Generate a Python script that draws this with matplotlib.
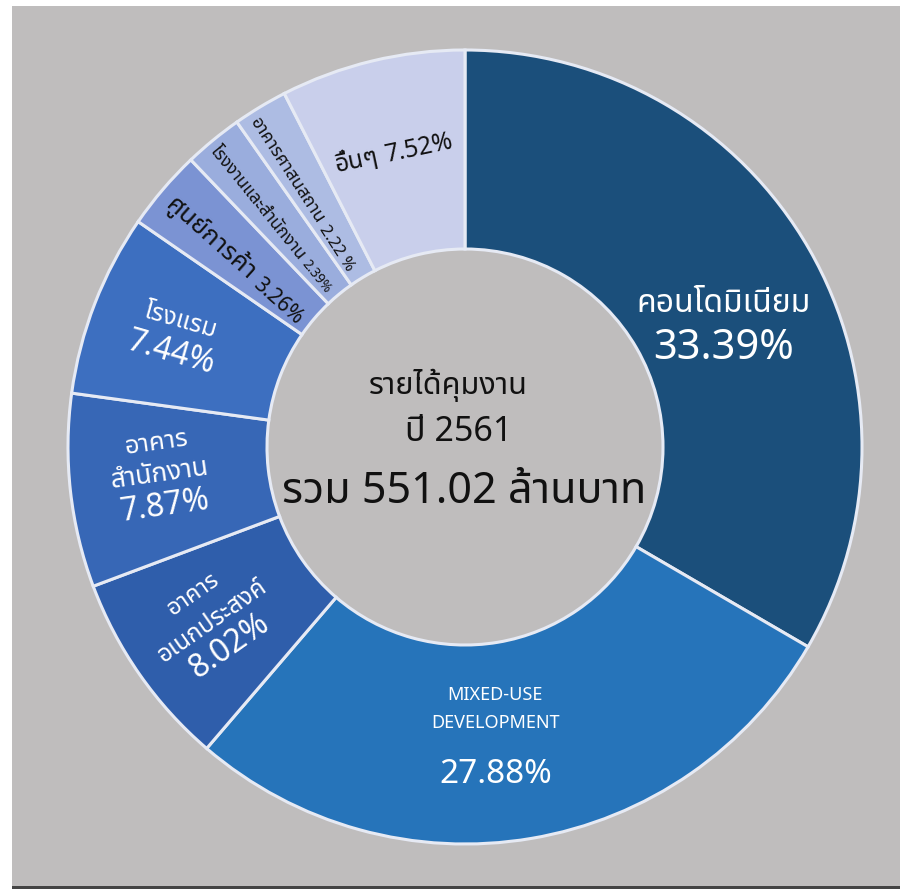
import numpy as np
import matplotlib
matplotlib.use("Agg")
import matplotlib.pyplot as plt
from matplotlib import font_manager
from matplotlib.ft2font import FT2Font
from matplotlib.patches import Rectangle

# ---------------- data ----------------
categories = ["คอนโดมิเนียม", "MIXED-USE DEVELOPMENT", "อาคารอเนกประสงค์",
              "อาคารสำนักงาน", "โรงแรม", "ศูนย์การค้า",
              "โรงงานและสำนักงาน", "อาคารศาสนสถาน", "อื่นๆ"]
values = [33.39, 27.88, 8.02, 7.87, 7.44, 3.26, 2.39, 2.22, 7.52]
pct_labels = ["33.39%", "27.88%", "8.02%", "7.87%", "7.44%", "3.26%", "2.39%", "2.22 %", "7.52%"]
colors = ["#1B4F7B", "#2674BA", "#2F5EAB", "#3767B6", "#3D6FC0",
          "#7B93D3", "#9AADDD", "#ADBCE3", "#C9CFEB"]
center_lines = ["รายได้คุมงาน", "ปี 2561", "รวม 551.02 ล้านบาท"]

# ---------------- font ----------------
thai_font = None
found = []
for f in font_manager.fontManager.ttflist:
    try:
        cm = FT2Font(f.fname).get_charmap()
        if 0x0E01 in cm and 0x0E32 in cm:
            found.append(f.name)
    except Exception:
        pass
pref = ["Noto Sans Thai", "Noto Sans Thai Looped", "Sarabun", "Kanit", "Prompt", "Garuda", "Loma", "Norasi", "Tlwg Typo", "Waree"]
for p in pref:
    if p in found:
        thai_font = p
        break
if thai_font is None and found:
    thai_font = sorted(set(found))[0]
fams = ([thai_font] if thai_font else []) + ["DejaVu Sans"]
plt.rcParams["font.family"] = fams

W, H = 900, 889
fig = plt.figure(figsize=(W / 100, H / 100), dpi=100)
fig.patch.set_facecolor("white")
ax = fig.add_axes([0, 0, 1, 1])
ax.set_xlim(0, W)
ax.set_ylim(0, H)
ax.axis("off")

# background panel
ax.add_patch(Rectangle((12, 3), W - 12, H - 9, facecolor="#BFBDBD", edgecolor="none", zorder=0))
ax.add_patch(Rectangle((12, 0), W - 12, 3, facecolor="#444444", edgecolor="none", zorder=0))

cx, cy = 465, H - 447
R = 397
ring = 199

wedges, _ = ax.pie(values, colors=colors, startangle=90, counterclock=False,
                   center=(cx, cy), radius=R,
                   wedgeprops=dict(width=ring, edgecolor="#E6EAF4", linewidth=2.2))
ax.set_xlim(0, W)
ax.set_ylim(0, H)
ax.set_aspect("equal")

renderer = fig.canvas.get_renderer()

def mid_angle(w):
    return np.deg2rad((w.theta1 + w.theta2) / 2.0)

def anchor(idx, r, dang):
    a = mid_angle(wedges[idx]) + np.deg2rad(dang)
    return cx + r * np.cos(a), cy + r * np.sin(a)

def block(idx, lines, r, dang, rot, color):
    """lines: list of (text, size_pt, offset_px along perpendicular)"""
    x0, y0 = anchor(idx, r, dang)
    th = np.deg2rad(rot)
    px, py = np.sin(th), -np.cos(th)
    for txt, size, off in lines:
        ax.text(x0 + px * off, y0 + py * off, txt, fontsize=size, color=color,
                rotation=rot, rotation_mode="anchor", ha="center", va="center")

def inline(idx, segs, r, dang, rot, color, gap=6):
    """segs: list of (text, size_pt) laid out along one rotated baseline, centred."""
    x0, y0 = anchor(idx, r, dang)
    widths = []
    for txt, size in segs:
        t = ax.text(0, 0, txt, fontsize=size)
        widths.append(t.get_window_extent(renderer).width)
        t.remove()
    total = sum(widths) + gap * (len(segs) - 1)
    th = np.deg2rad(rot)
    ux, uy = np.cos(th), np.sin(th)
    px, py = np.sin(th), -np.cos(th)
    em = max(s for _, s in segs) * 100 / 72.0
    x0 += px * 0.35 * em
    y0 += py * 0.35 * em
    s = -total / 2.0
    for (txt, size), wdt in zip(segs, widths):
        xs, ys = x0 + ux * s, y0 + uy * s
        ax.text(xs, ys, txt, fontsize=size, color=color, rotation=rot,
                rotation_mode="anchor", ha="left", va="baseline")
        s += wdt + gap

WH = "white"
BK = "#111111"
block(0, [(categories[0], 23, -22), (pct_labels[0], 30, 23)], 286, -4.7, 0, WH)
block(1, [("MIXED-USE", 13, -35), ("DEVELOPMENT", 13, -7), (pct_labels[1], 24, 44)], 285, -3.5, 0, WH)
block(2, [("อาคาร", 17, -33), ("อเนกประสงค์", 17.5, 0), (pct_labels[2], 23, 31)], 307, -0.45, 35, WH)
block(3, [("อาคาร", 18.5, -31), ("สำนักงาน", 19, 0), (pct_labels[3], 23, 32)], 306, -1.25, 8, WH)
block(4, [("โรงแรม", 18, -17), (pct_labels[4], 23, 17)], 309, 0.4, -16, WH)
inline(5, [(categories[5], 18.5), (pct_labels[5], 15)], 296, 1.05, -41.7, BK)
inline(6, [(categories[6], 12.5), (pct_labels[6], 9.8)], 299, 0.8, -51, BK, gap=4)
inline(7, [(categories[7], 12.8), (pct_labels[7], 12)], 300, 1.5, -57, BK, gap=5)
inline(8, [(categories[8], 17.7), (pct_labels[8], 17.7)], 304, 0.0, 12, BK, gap=7)

# centre text
ax.text(cx - 17, cy + 62, center_lines[0], fontsize=22, ha="center", va="center", color=BK)
ax.text(cx - 6, cy + 15, center_lines[1], fontsize=24.5, ha="center", va="center", color=BK)
ax.text(cx - 1, cy - 45, center_lines[2], fontsize=31, ha="center", va="center", color=BK)

fig.savefig("out.png", dpi=100, facecolor=fig.get_facecolor())
